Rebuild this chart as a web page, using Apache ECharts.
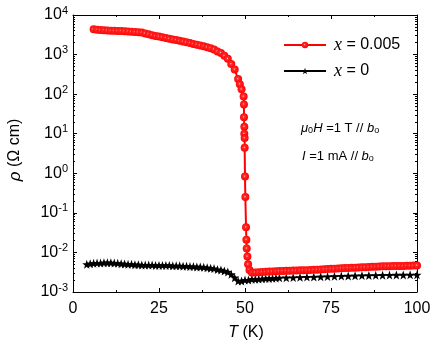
<!DOCTYPE html>
<html>
<head>
<meta charset="utf-8">
<script src="https://cdn.jsdelivr.net/npm/echarts@6/dist/echarts.min.js"></script>
<style>
  html, body { margin: 0; padding: 0; background: #fff; }
  #chart { width: 436px; height: 351px; }
</style>
</head>
<body>
<div id="chart"></div>
<script>
// x = 0.005 sample, rho (Ohm cm) vs T (K)
var redT = [6, 7, 8, 9, 10, 11, 12, 13, 14, 15, 16, 17, 18, 19, 20, 21, 22, 23, 24, 25, 26, 27, 28, 29, 30,
  31, 32, 33, 34, 35, 36, 37, 38, 39, 40, 41, 42, 43, 44, 45, 46, 47, 48, 48.5, 49, 49.6,
  49.7, 49.7, 49.8, 49.8, 49.9, 49.9, 50.0, 50.1, 50.3, 50.4, 50.5, 50.7, 50.9, 51.3, 52,
  53, 54, 55, 56, 57, 58, 59, 60, 61, 62, 63, 64, 65, 66, 67, 68, 69, 70, 71, 72, 73, 74, 75, 76,
  77, 78, 79, 80, 81, 82, 83, 84, 85, 86, 87, 88, 89, 90, 91, 92, 93, 94, 95, 96, 97, 98, 99, 100];
var redRho = [4350, 4250, 4170, 4120, 4070, 4020, 3980, 3960, 3940, 3900, 3850, 3790, 3720, 3660, 3590, 3420, 3240, 3100, 2950, 2850, 2750, 2630, 2510, 2420, 2340,
  2240, 2140, 2040, 1950, 1860, 1780, 1700, 1620, 1530, 1450, 1350, 1200, 1100, 930, 780, 575, 420, 240, 178, 132, 87,
  55, 26, 15, 10, 7.8, 4.4, 0.83, 0.25, 0.043, 0.021, 0.0126, 0.0079, 0.005, 0.0036, 0.0031,
  0.00313, 0.00316, 0.0032, 0.00324, 0.00328, 0.00331, 0.00335, 0.00339, 0.00341, 0.00343, 0.00345, 0.00347, 0.0035, 0.00352, 0.00355, 0.00357, 0.0036, 0.00363, 0.00367, 0.00372, 0.00376, 0.0038, 0.00385, 0.00389,
  0.00394, 0.00398, 0.00403, 0.00407, 0.0041, 0.00412, 0.00416, 0.0042, 0.00424, 0.00427, 0.00432, 0.00437, 0.00442, 0.00447, 0.00449, 0.0045, 0.00452, 0.00453, 0.00455, 0.00457, 0.0046, 0.00462, 0.00465, 0.00468];

// x = 0 sample
var blackT = [4, 5, 6, 7, 8, 9, 10, 11, 12, 13, 14, 15, 16, 17, 18, 19, 20, 21, 22, 23, 24, 25, 26, 27, 28, 29, 30,
  31, 32, 33, 34, 35, 36, 37, 38, 39, 40, 41, 42, 43, 44, 45, 46, 47, 48, 49, 50, 51, 52, 53,
  54, 55, 56, 57, 58, 59, 60, 62, 64, 66, 68, 70, 72, 74, 76, 78, 80, 82, 84, 86, 88, 90, 92, 94, 96, 98, 100];
var blackRho = [0.0050, 0.0052, 0.0053, 0.0054, 0.0054, 0.0055, 0.0055, 0.0055, 0.0054, 0.0053, 0.0052, 0.0051, 0.0050, 0.0050, 0.0049, 0.0049, 0.0048, 0.0048, 0.0048, 0.0048, 0.0047, 0.0047, 0.0047, 0.0047, 0.0047, 0.0046, 0.0046,
  0.0046, 0.0045, 0.0045, 0.0044, 0.0044, 0.0043, 0.0043, 0.0042, 0.0041, 0.0040, 0.0039, 0.0037, 0.0036, 0.0034, 0.0032, 0.0028, 0.0023, 0.0019, 0.0019, 0.0020, 0.0020, 0.0021, 0.0021,
  0.00212, 0.00215, 0.00218, 0.0022, 0.00222, 0.00225, 0.00228, 0.0023, 0.00232, 0.00235, 0.00238, 0.0024, 0.00243, 0.00246, 0.00249, 0.00252, 0.00255, 0.00258, 0.0026, 0.00262, 0.00264, 0.00266, 0.00268, 0.0027, 0.0027, 0.00271, 0.00272];

var xTicks = [0, 25, 50, 75, 100];
var yMin = 0.001, yMax = 10000;

function pairs(xs, ys) {
  var out = [];
  for (var i = 0; i < xs.length; i++) out.push([xs[i], ys[i]]);
  return out;
}

// log minor ticks 2..9 in each decade
var minorVals = [];
for (var e = -3; e < 4; e++) {
  for (var m = 2; m < 10; m++) minorVals.push(m * Math.pow(10, e));
}

var font = 'Liberation Sans';
var star = 'path://M0,-10 L2.35,-3.24 9.51,-3.09 3.8,1.24 5.88,8.09 0,4 -5.88,8.09 -3.8,1.24 -9.51,-3.09 -2.35,-3.24Z';
var ball = {
  type: 'radial', x: 0.45, y: 0.45, r: 0.55,
  colorStops: [{ offset: 0, color: '#ffc8c8' }, { offset: 0.25, color: '#ff2a2a' }, { offset: 1, color: '#ff0000' }]
};

var chart = echarts.init(document.getElementById('chart'));

var axisLine = { show: true, lineStyle: { color: '#000', width: 1 } };

var option = {
  animation: false,
  grid: { left: 73, right: 19, top: 15, bottom: 59 },
  legend: {
    orient: 'vertical',
    left: 278,
    top: 31,
    itemWidth: 42,
    itemHeight: 8,
    itemGap: 8,
    textStyle: {
      fontFamily: font, fontSize: 16, color: '#000', padding: [0, 0, 0, 3],
      rich: {
        i: { fontFamily: 'Liberation Serif', fontStyle: 'italic', fontSize: 18, color: '#000' },
        n: { fontFamily: font, fontSize: 16, color: '#000' }
      }
    },
    formatter: function (name) {
      return '{i|x}{n| = ' + name + '}';
    },
    data: ['0.005', '0']
  },
  xAxis: [{
    type: 'value', min: 0, max: 100, interval: 25,
    axisLine: axisLine,
    axisTick: { inside: true, length: 4, lineStyle: { color: '#000' } },
    minorTick: { show: true, splitNumber: 2, length: 2, lineStyle: { color: '#000' } },
    splitLine: { show: false },
    axisLabel: { fontFamily: font, fontSize: 16, color: '#000', margin: 9 }
  }, {
    type: 'value', min: 0, max: 100, interval: 25, position: 'top',
    axisLine: axisLine,
    axisTick: { inside: true, length: 4, lineStyle: { color: '#000' } },
    minorTick: { show: true, splitNumber: 2, length: 2, lineStyle: { color: '#000' } },
    splitLine: { show: false },
    axisLabel: { show: false }
  }],
  yAxis: [{
    type: 'log', min: yMin, max: yMax, logBase: 10,
    axisLine: axisLine,
    axisTick: { inside: true, length: 4, lineStyle: { color: '#000' } },
    splitLine: { show: false },
    axisLabel: {
      margin: 5,
      formatter: function (v) {
        var p = Math.round(Math.log10(v));
        return '{b|10}{s|' + p + '}';
      },
      rich: {
        b: { fontFamily: font, fontSize: 16, color: '#000', lineHeight: 20 },
        s: { fontFamily: font, fontSize: 11, color: '#000', verticalAlign: 'top', lineHeight: 12 }
      }
    }
  }, {
    type: 'log', min: yMin, max: yMax, logBase: 10, position: 'left',
    axisLine: { show: false },
    axisTick: { inside: true, length: 2, lineStyle: { color: '#000' }, customValues: minorVals },
    splitLine: { show: false },
    axisLabel: { show: false }
  }, {
    type: 'log', min: yMin, max: yMax, logBase: 10, position: 'right',
    axisLine: axisLine,
    axisTick: { inside: true, length: 4, lineStyle: { color: '#000' } },
    splitLine: { show: false },
    axisLabel: { show: false }
  }, {
    type: 'log', min: yMin, max: yMax, logBase: 10, position: 'right',
    axisLine: { show: false },
    axisTick: { inside: true, length: 2, lineStyle: { color: '#000' }, customValues: minorVals },
    splitLine: { show: false },
    axisLabel: { show: false }
  }],
  series: [{
    name: '0', type: 'line',
    data: pairs(blackT, blackRho),
    symbol: star, symbolSize: 9,
    itemStyle: { color: '#000' },
    lineStyle: { color: '#000', width: 1.5 }
  }, {
    name: '0.005', type: 'line',
    data: pairs(redT, redRho),
    symbol: 'circle', symbolSize: 8,
    itemStyle: { color: ball, borderWidth: 0 },
    lineStyle: { color: '#ff0000', width: 2 }
  }],
  graphic: [{
    type: 'text', x: 15, y: 150, rotation: Math.PI / 2,
    style: {
      text: '{i|ρ}{n| (Ω cm)}', align: 'center', verticalAlign: 'middle',
      rich: {
        i: { fontFamily: font, fontStyle: 'italic', fontSize: 17, fill: '#000' },
        n: { fontFamily: font, fontSize: 16, fill: '#000' }
      }
    }
  }, {
    type: 'text', x: 246, y: 333,
    style: {
      text: '{i|T}{n| (K)}', align: 'center', verticalAlign: 'middle',
      rich: {
        i: { fontFamily: font, fontStyle: 'italic', fontSize: 16, fill: '#000' },
        n: { fontFamily: font, fontSize: 16, fill: '#000' }
      }
    }
  }, {
    type: 'text', x: 301, y: 128,
    style: {
      text: '{i|μ}{s|0}{i|H}{n| =1 T // }{i|b}{s|o}', align: 'left', verticalAlign: 'middle',
      rich: {
        i: { fontFamily: font, fontStyle: 'italic', fontSize: 13, fill: '#000' },
        n: { fontFamily: font, fontSize: 13, fill: '#000' },
        s: { fontFamily: font, fontSize: 9, fill: '#000', verticalAlign: 'bottom', padding: [6, 0, 0, 0] }
      }
    }
  }, {
    type: 'text', x: 302, y: 156,
    style: {
      text: '{i|I}{n| =1 mA // }{i|b}{s|o}', align: 'left', verticalAlign: 'middle',
      rich: {
        i: { fontFamily: font, fontStyle: 'italic', fontSize: 13, fill: '#000' },
        n: { fontFamily: font, fontSize: 13, fill: '#000' },
        s: { fontFamily: font, fontSize: 9, fill: '#000', verticalAlign: 'bottom', padding: [6, 0, 0, 0] }
      }
    }
  }]
};

chart.setOption(option);
</script>
</body>
</html>
